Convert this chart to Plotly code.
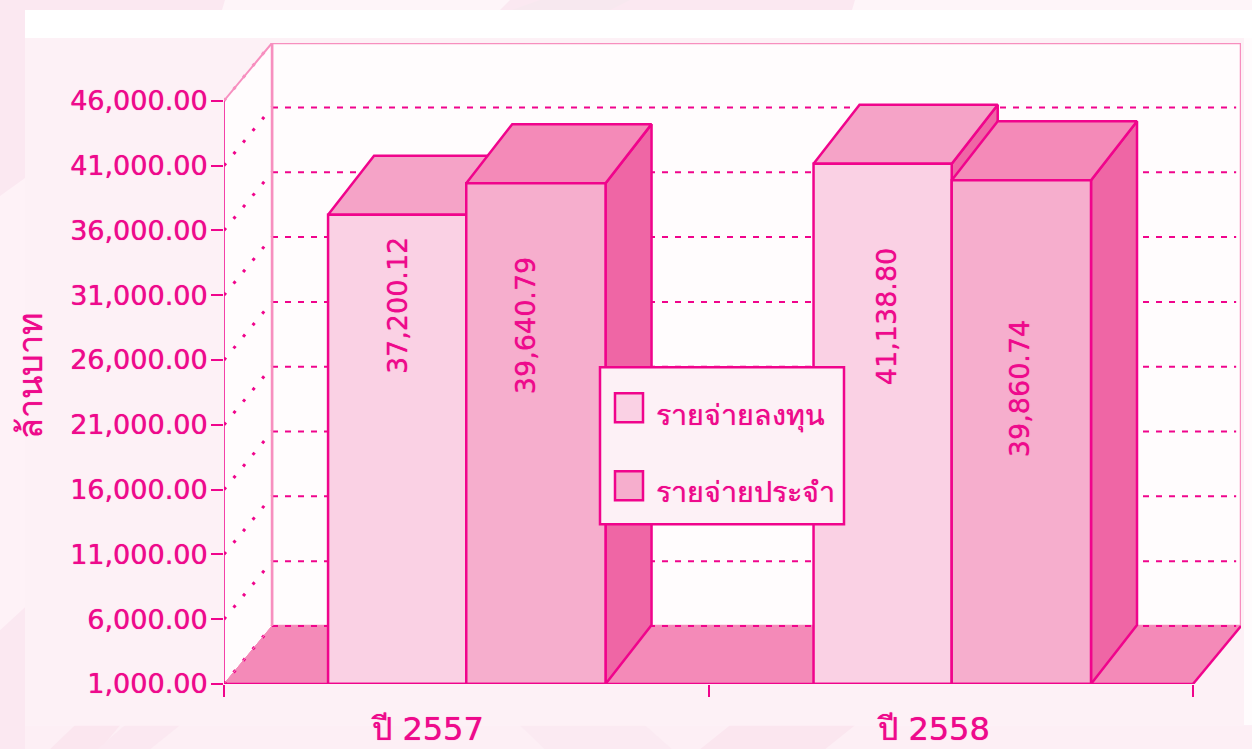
import plotly.graph_objects as go

# ---- data ----
categories = ["ปี 2557", "ปี 2558"]
series_names = ["รายจ่ายลงทุน", "รายจ่ายประจำ"]
capital = [37200.12, 41138.80]
recurrent = [39640.79, 39860.74]
capital_labels = ["37,200.12", "41,138.80"]
recurrent_labels = ["39,640.79", "39,860.74"]
y_ticks = [1000, 6000, 11000, 16000, 21000, 26000, 31000, 36000, 41000, 46000]
y_title = "ล้านบาท"

# ---- geometry helpers ----
W, H = 1252, 749
L, R, T, B = 224, 1241, 43, 683.7
PX_X = 484.5
PX_Y = 583 / 45000
Y0 = 1000
xmax = (R - L) / PX_X
ymax = Y0 + (B - T) / PX_Y
DX = 46 / PX_X
DY = 59 / PX_Y
WALL_DX = 48 / PX_X
WALL_DY = 58 / PX_Y
BAR_W_A = 0.2852
BAR_W_B = 0.2875

TEXT = "#ee0a8c"
EDGE = "#f0048c"
LIGHT = "#f78fbf"
WALL = "#fffcfd"
SHADOW = "0 0 0.7px #ee0a8c"


def xp(px):
    return (px - L) / PX_X


def yp(py):
    return Y0 + (B - py) / PX_Y


def fx(px):
    return (px - L) / (R - L)


def fy(py):
    return (B - py) / (B - T)


fig = go.Figure()


def poly(xs, ys, fill=None, color=EDGE, width=2.5, dash="solid", closed=True):
    if closed:
        xs = list(xs) + [xs[0]]
        ys = list(ys) + [ys[0]]
    fig.add_trace(go.Scatter(
        x=xs, y=ys, mode="lines", cliponaxis=False, hoverinfo="skip", showlegend=False,
        line=dict(color=color, width=width, dash=dash),
        fill="toself" if fill else "none", fillcolor=fill,
    ))


def bar3d(x0, x1, value, front, top, side):
    poly([x1, x1 + DX, x1 + DX, x1], [Y0, Y0 + DY, value + DY, value], side)
    poly([x0, x1, x1 + DX, x0 + DX], [value, value, value + DY, value + DY], top)
    poly([x0, x1, x1, x0], [Y0, Y0, value, value], front)


# walls
poly([WALL_DX, xmax, xmax, WALL_DX], [Y0 + WALL_DY, Y0 + WALL_DY, ymax, ymax], WALL, LIGHT, 2.5)
poly([0, WALL_DX, WALL_DX, 0], [Y0, Y0 + WALL_DY, ymax, ymax - WALL_DY], WALL, LIGHT, 0.1)
# floor
poly([0, 2, 2 + WALL_DX, WALL_DX], [Y0, Y0, Y0 + WALL_DY, Y0 + WALL_DY], "#f48ab8", "#f48ab8", 1)
# grid
for i, t in enumerate(y_ticks):
    top_line = t == y_ticks[-1]
    poly([WALL_DX, xmax - 0.01], [t + WALL_DY, t + WALL_DY], None,
         LIGHT if top_line else EDGE, 2, "6px,7px", closed=False)
    poly([0, WALL_DX], [t, t + WALL_DY], None, LIGHT if top_line else EDGE, 3, "3px,12px", closed=False)
# left edges
poly([0, 0], [Y0, y_ticks[-1]], None, EDGE, 1.5, closed=False)
poly([0, WALL_DX], [y_ticks[-1], ymax], None, LIGHT, 2, closed=False)
poly([WALL_DX, WALL_DX], [Y0 + WALL_DY, ymax], None, LIGHT, 2.5, closed=False)
poly([2, 2 + WALL_DX], [Y0, Y0 + WALL_DY], None, EDGE, 2.5, closed=False)
poly([0, WALL_DX], [Y0, Y0 + WALL_DY], None, "#f48ab8", 1, closed=False)

# bars, painter's order
centres = [0.5, 1.502]
for c, a, b in zip(centres, capital, recurrent):
    bar3d(c - BAR_W_A, c, a, "#fad1e4", "#f5a3c7", "#ef66a5")
    bar3d(c, c + BAR_W_B, b, "#f6aecd", "#f48ab8", "#ef66a5")

# x axis line
poly([0, 2], [Y0, Y0], None, EDGE, 2.5, closed=False)

# value labels (rotated)
label_x = [397, 525, 886, 1019]
label_y = [306, 326, 317, 389]
annotations = []
for t, px, py in zip([capital_labels[0], recurrent_labels[0], capital_labels[1], recurrent_labels[1]], label_x, label_y):
    annotations.append(dict(x=xp(px), y=yp(py), text=t, textangle=-90, showarrow=False,
                            xanchor="center", yanchor="middle",
                            font=dict(size=27, color=TEXT, family="DejaVu Sans, sans-serif", shadow=SHADOW)))
# y title
annotations.append(dict(x=fx(29), y=fy(376), xref="paper", yref="paper", text=y_title, textangle=-90,
                        xanchor="center", yanchor="middle",
                        showarrow=False, font=dict(size=34, color=TEXT, shadow=SHADOW)))
# legend text
annotations.append(dict(x=fx(654), y=fy(413), xref="paper", yref="paper", text=series_names[0], xanchor="left",
                        yanchor="middle", showarrow=False, font=dict(size=28.6, color=TEXT, shadow=SHADOW)))
annotations.append(dict(x=fx(654), y=fy(490), xref="paper", yref="paper", text=series_names[1], xanchor="left",
                        yanchor="middle", showarrow=False, font=dict(size=28.6, color=TEXT, shadow=SHADOW)))


def rect(x0, y0, x1, y1, fill, line=None, lw=0, layer="below"):
    return dict(type="rect", xref="paper", yref="paper", x0=fx(x0), x1=fx(x1), y0=fy(y1), y1=fy(y0),
                fillcolor=fill, line=dict(color=line or fill, width=lw), layer=layer)


def bgpoly(pts, fill):
    path = "M " + " L ".join(f"{fx(a):.5f} {fy(b):.5f}" for a, b in pts) + " Z"
    return dict(type="path", xref="paper", yref="paper", path=path, fillcolor=fill, line=dict(width=0), layer="below")


shapes = [
    bgpoly([(0, 196), (25, 178), (25, 607), (0, 630)], "#fef2f7"),
    bgpoly([(225, 0), (510, 0), (500, 10), (222, 10)], "#fef5f9"),
    bgpoly([(540, 0), (630, 0), (610, 10), (512, 10)], "#f7e8ef"),
    bgpoly([(855, 0), (1252, 0), (1252, 10), (852, 10)], "#fef5f9"),
    rect(25, 725, 1252, 749, "#fdeff5"),
    bgpoly([(75, 725), (120, 725), (100, 749), (50, 749)], "#fbe6ef"),
    bgpoly([(125, 725), (180, 725), (150, 749), (97, 749)], "#fbe8f1"),
    bgpoly([(520, 725), (645, 725), (672, 749), (545, 749)], "#fbeaf2"),
    bgpoly([(730, 725), (855, 725), (825, 749), (700, 749)], "#fbe6ef"),
    rect(25, 10, 1252, 38, "#ffffff"),
    rect(25, 38, 1252, 725, "#fffcfd"),
    rect(25, 38, 1244, 725, "#fdf1f6"),
    # legend box and swatches, above the marks
    rect(600, 367, 844, 524, "#fdf1f6", EDGE, 2.5, "above"),
    rect(615, 393, 643, 422, "#fad1e4", EDGE, 2.5, "above"),
    rect(615, 471, 643, 500, "#f6aecd", EDGE, 2.5, "above"),
]

fig.update_layout(
    width=W, height=H, autosize=False, showlegend=False,
    margin=dict(l=L, r=W - R, t=T, b=H - B, pad=0),
    paper_bgcolor="#fbe8f1", plot_bgcolor="rgba(0,0,0,0)",
    font=dict(family="Noto Sans, DejaVu Sans, sans-serif", color=TEXT),
    shapes=shapes, annotations=annotations,
    xaxis=dict(range=[0, xmax], showgrid=False, zeroline=False, showline=False, automargin=False,
               tickvals=[xp(428), xp(934)], ticktext=categories, ticks="", ticklabelstandoff=23,
               tickfont=dict(size=32, color=TEXT, family="DejaVu Sans, sans-serif", shadow=SHADOW),
               minor=dict(tickvals=[0, 1, 2], ticks="outside", ticklen=12, tickwidth=2, tickcolor=EDGE)),
    yaxis=dict(range=[Y0, ymax], showgrid=False, zeroline=False, showline=False, automargin=False,
               tickvals=y_ticks, tickformat=",.2f", ticks="outside", ticklen=12, tickwidth=2,
               tickcolor=EDGE, ticklabelstandoff=-2,
               tickfont=dict(size=27, color=TEXT, family="DejaVu Sans, sans-serif", shadow=SHADOW)),
)

fig.write_html("out.html", config={"displayModeBar": False},
               post_script="document.body.style.margin='0';document.body.style.overflow='hidden';")
